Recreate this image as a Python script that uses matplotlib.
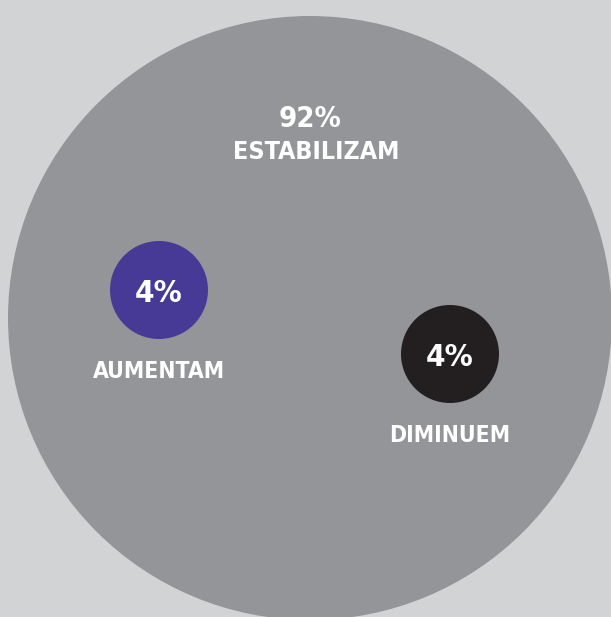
import matplotlib.pyplot as plt
from matplotlib.patches import Circle

# valores e rotulos
pcts = ["92%", "4%", "4%"]
rotulos = ["ESTABILIZAM", "AUMENTAM", "DIMINUEM"]
cores = ["#939598", "#463a96", "#231f20"]

# circulos em pixels (centro x, centro y, raio)
centros = [(310, 318), (159, 290), (450, 354)]
raios = [302, 49, 49]

fig = plt.figure(figsize=(6.11, 6.17), dpi=100)
fig.patch.set_facecolor("#d2d3d5")
ax = fig.add_axes([0, 0, 1, 1])
ax.set_xlim(0, 611)
ax.set_ylim(617, 0)
ax.set_aspect("equal")
ax.axis("off")

for (cx, cy), r, c in zip(centros, raios, cores):
    ax.add_patch(Circle((cx, cy), r, color=c, lw=0))

kw = dict(color="white", fontweight="bold", ha="center", va="baseline",
          family=["DejaVu Sans"], fontstretch="condensed")

# texto do circulo grande
ax.text(310, 127, pcts[0], fontsize=21, **kw)
ax.text(316, 159, rotulos[0], fontsize=18, **kw)

# circulos pequenos
for i in (1, 2):
    cx, cy = centros[i]
    ax.text(cx, cy + 12, pcts[i], fontsize=22.5, **kw)
    ax.text(cx, cy + raios[i] + 39, rotulos[i], fontsize=16.5, **kw)

fig.savefig("out.png", dpi=100, facecolor=fig.get_facecolor())
